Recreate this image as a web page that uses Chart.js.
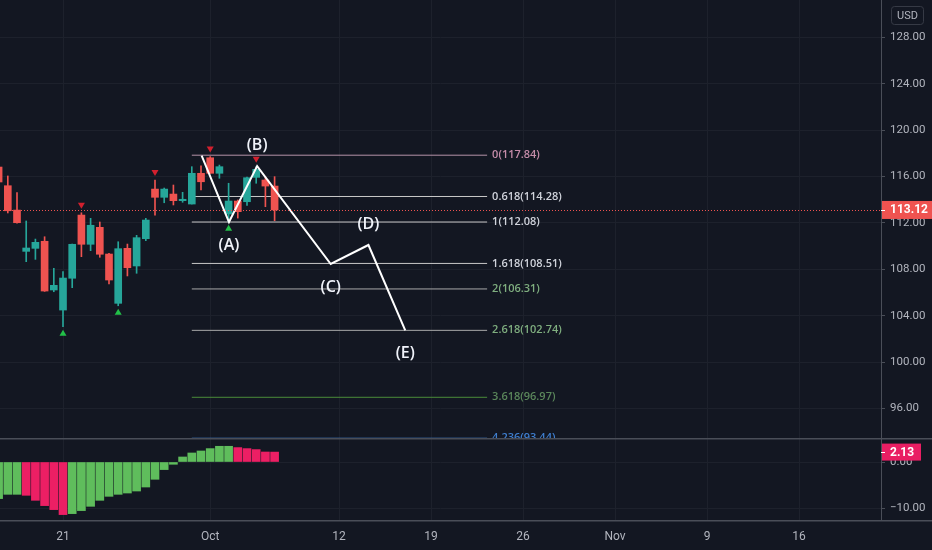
<!DOCTYPE html>
<html>
<head>
<meta charset="utf-8">
<script src="https://cdn.jsdelivr.net/npm/chart.js@4.4.0/dist/chart.umd.min.js"></script>
<style>
  html, body { margin: 0; padding: 0; background: #131722; }
  #wrap { position: relative; width: 932px; height: 550px; overflow: hidden; background: #131722; }
  canvas { position: absolute; left: 0; }
  #priceCanvas { top: 0; }
  #oscCanvas { top: 438px; }
</style>
</head>
<body>
<div id="wrap">
  <canvas id="priceCanvas" width="932" height="438"></canvas>
  <canvas id="oscCanvas" width="932" height="112"></canvas>
</div>
<script>
// bar index 0 = the "21" bar (two bars per session)
const barIdx = [-7, -6, -5, -4, -3, -2, -1, 0, 1, 2, 3, 4, 5, 6, 7, 8, 9, 10, 11, 12, 13, 14, 15, 16, 17, 18, 19, 20, 21, 22, 23];
const opens  = [116.82, 115.21, 113.11, 109.55, 109.81, 110.42, 106.22, 104.49, 107.23, 112.68, 110.16, 111.62, 109.32, 105.07, 109.81, 108.29, 110.64, 114.92, 114.21, 114.49, 113.92, 113.63, 116.28, 117.62, 116.28, 112.77, 113.89, 113.83, 115.93, 115.70, 115.18];
const highs  = [117.10, 116.05, 114.61, 112.17, 110.61, 110.81, 108.09, 107.80, 110.18, 112.88, 112.40, 112.08, 109.38, 110.38, 110.18, 110.93, 112.40, 115.70, 115.01, 115.27, 114.64, 116.85, 116.93, 117.72, 116.99, 115.42, 113.98, 115.96, 116.85, 115.99, 115.99];
const lows   = [115.40, 112.86, 111.99, 108.66, 108.86, 106.10, 106.07, 103.05, 106.42, 109.09, 109.61, 109.04, 106.74, 104.86, 107.43, 107.66, 110.47, 112.68, 113.74, 113.55, 113.78, 113.63, 114.84, 116.28, 115.85, 112.11, 112.42, 113.52, 115.42, 113.40, 112.19];
const closes = [115.53, 113.05, 112.02, 109.84, 110.33, 106.13, 106.62, 107.25, 110.16, 110.16, 111.80, 109.30, 107.08, 109.78, 108.14, 110.73, 112.25, 114.21, 114.92, 113.92, 114.04, 116.28, 115.55, 116.28, 116.85, 113.89, 112.97, 115.90, 116.62, 115.18, 113.12];

const histValues = [-7.87, -6.95, -6.95, -7.16, -8.24, -9.38, -10.24, -11.31, -11.10, -10.45, -9.53, -8.24, -7.38, -6.95, -6.67, -6.24, -5.38, -3.72, -1.63, -0.49, 1.08, 1.94, 2.37, 2.88, 3.38, 3.38, 3.10, 2.88, 2.67, 2.15, 2.13];
const histRising = [1, 1, 1, 0, 0, 0, 0, 0, 1, 1, 1, 1, 1, 1, 1, 1, 1, 1, 1, 1, 1, 1, 1, 1, 1, 1, 0, 0, 0, 0, 0];

const tickIdx = [0, 16, 30, 40, 50, 60, 70, 80];
const tickLabels = ['21', 'Oct', '12', '19', '26', 'Nov', '9', '16'];
const priceTicks = [96, 100, 104, 108, 112, 116, 120, 124, 128];
const oscTicks = [-10, 0];

const fibRatios = ['0', '0.618', '1', '1.618', '2', '2.618', '3.618', '4.236'];
const fibPrices = [117.84, 114.28, 112.08, 108.51, 106.31, 102.74, 96.97, 93.44];
const fibStart = 14;
const fibEnd = 46.1;

const waveX = [15.07, 18.04, 21.1, 29.1, 33.2, 37.2];
const waveY = [117.8, 112.08, 116.9, 108.46, 110.1, 102.74];
const waveNames = ['', '(A)', '(B)', '(C)', '(D)', '(E)'];

const peakBars = [2, 10, 16, 21];
const troughBars = [0, 6, 18];

const lastPrice = 113.12;
const lastOsc = 2.13;

const bg = '#131722';
const gridColor = '#1d212c';
const axisColor = '#4a4e58';
const textColor = '#b2b5be';
const upColor = '#26a69a';
const downColor = '#ef5350';
const fibLineColors = ['#b693a8', '#c9c9c9', '#c9c9c9', '#c9c9c9', '#a8a8a8', '#a8a8a8', '#4a8c3a', '#3f7fd0'];
const fibTextColors = ['#c58ca9', '#d1d4dc', '#d1d4dc', '#d1d4dc', '#7fae7f', '#7fae7f', '#5b875b', '#3f7fd0'];

const xMin = -6.848, xMax = 88.913;
const axisWidth = 51;

function xScale(showLabels) {
  return {
    type: 'linear', min: xMin, max: xMax, offset: false,
    afterBuildTicks: s => { s.ticks = tickIdx.map(v => ({ value: v })); },
    grid: { color: gridColor, drawTicks: false, offset: false },
    border: { display: false },
    ticks: {
      display: showLabels, color: textColor, padding: 10, maxRotation: 0, autoSkip: false,
      font: { family: 'Roboto', size: 12 },
      callback: v => tickLabels[tickIdx.indexOf(v)]
    },
    afterFit: s => { s.height = showLabels ? 30 : 0; s.paddingLeft = 0; s.paddingRight = 0; }
  };
}

function yScale(min, max, ticks, fmt) {
  return {
    position: 'right', min: min, max: max,
    afterBuildTicks: s => { s.ticks = ticks.map(v => ({ value: v })); },
    grid: { color: gridColor, tickColor: axisColor, tickLength: 4 },
    border: { color: axisColor },
    ticks: { color: textColor, padding: 5, font: { family: 'Roboto', size: 11.5 }, callback: fmt },
    afterFit: s => { s.width = axisWidth; s.paddingTop = 0; s.paddingBottom = 0; }
  };
}

function triangle(ctx, x, y, down, color) {
  ctx.beginPath();
  if (down) { ctx.moveTo(x - 3.5, y - 3); ctx.lineTo(x + 3.5, y - 3); ctx.lineTo(x, y + 3); }
  else { ctx.moveTo(x - 3.5, y + 3); ctx.lineTo(x + 3.5, y + 3); ctx.lineTo(x, y - 3); }
  ctx.closePath();
  ctx.fillStyle = color;
  ctx.fill();
}

const bgPlugin = {
  id: 'bg',
  beforeDraw(chart) {
    const ctx = chart.ctx;
    ctx.save();
    ctx.fillStyle = bg;
    ctx.fillRect(0, 0, chart.width, chart.height);
    ctx.restore();
  }
};

const priceOverlay = {
  id: 'priceOverlay',
  afterDatasetsDraw(chart) {
    const { ctx, chartArea, scales: { x, y } } = chart;
    ctx.save();
    ctx.beginPath();
    ctx.rect(chartArea.left, chartArea.top, chartArea.right - chartArea.left, chartArea.bottom - chartArea.top);
    ctx.clip();

    // last price line
    const py = Math.round(y.getPixelForValue(lastPrice)) + 0.5;
    ctx.setLineDash([1, 2]);
    ctx.strokeStyle = downColor;
    ctx.lineWidth = 1;
    ctx.beginPath();
    ctx.moveTo(chartArea.left, py);
    ctx.lineTo(chartArea.right, py);
    ctx.stroke();
    ctx.setLineDash([]);

    // fib labels
    ctx.font = '600 11px "Open Sans"';
    ctx.textAlign = 'left';
    ctx.textBaseline = 'middle';
    fibPrices.forEach((p, i) => {
      ctx.fillStyle = fibTextColors[i];
      ctx.fillText(fibRatios[i] + '(' + p.toFixed(2) + ')', x.getPixelForValue(fibEnd) + 5, y.getPixelForValue(p));
    });

    // pivot markers
    peakBars.forEach(b => {
      const k = barIdx.indexOf(b);
      triangle(ctx, x.getPixelForValue(b), y.getPixelForValue(highs[k]) - 7, true, '#d2202e');
    });
    troughBars.forEach(b => {
      const k = barIdx.indexOf(b);
      triangle(ctx, x.getPixelForValue(b), y.getPixelForValue(lows[k]) + 6, false, '#22c048');
    });

    // wave labels
    ctx.font = '600 16px "Open Sans"';
    ctx.textAlign = 'center';
    ctx.fillStyle = '#f0f3fa';
    for (let i = 1; i < waveX.length; i++) {
      const peak = waveY[i] > waveY[i - 1];
      const ly = y.getPixelForValue(waveY[i]) + (peak ? -21 : 23);
      ctx.fillText(waveNames[i], x.getPixelForValue(waveX[i]), ly);
    }
    ctx.restore();
  },
  afterDraw(chart) {
    const { ctx, chartArea, scales: { y } } = chart;
    ctx.save();
    // price tag
    const py = y.getPixelForValue(lastPrice);
    ctx.fillStyle = downColor;
    ctx.fillRect(chartArea.right + 1, py - 9, axisWidth, 18);
    ctx.fillStyle = '#ffffff';
    ctx.font = 'bold 12px Roboto';
    ctx.textAlign = 'left';
    ctx.textBaseline = 'middle';
    ctx.fillText(lastPrice.toFixed(2), chartArea.right + 9, py + 0.5);
    ctx.strokeStyle = '#ffffff';
    ctx.beginPath();
    ctx.moveTo(chartArea.right, Math.round(py) + 0.5);
    ctx.lineTo(chartArea.right + 4, Math.round(py) + 0.5);
    ctx.stroke();
    // currency badge
    ctx.strokeStyle = '#363a45';
    ctx.lineWidth = 1;
    ctx.beginPath();
    ctx.roundRect(891.5, 6.5, 32, 18, 3);
    ctx.stroke();
    ctx.fillStyle = textColor;
    ctx.font = '11px Roboto';
    ctx.textAlign = 'center';
    ctx.fillText('USD', 907.5, 16);
    ctx.restore();
  }
};

const oscOverlay = {
  id: 'oscOverlay',
  afterDraw(chart) {
    const { ctx, chartArea, scales: { y } } = chart;
    ctx.save();
    const py = y.getPixelForValue(lastOsc);
    ctx.fillStyle = '#e91e63';
    ctx.fillRect(chartArea.right + 1, py - 8.5, 39, 17);
    ctx.fillStyle = '#ffffff';
    ctx.font = 'bold 12px Roboto';
    ctx.textAlign = 'left';
    ctx.textBaseline = 'middle';
    ctx.fillText(lastOsc.toFixed(2), chartArea.right + 9, py + 0.5);
    ctx.strokeStyle = '#ffffff';
    ctx.beginPath();
    ctx.moveTo(chartArea.right, Math.round(py) + 0.5);
    ctx.lineTo(chartArea.right + 4, Math.round(py) + 0.5);
    ctx.stroke();
    // pane separators
    ctx.fillStyle = '#4a4e58';
    ctx.fillRect(0, 0, chart.width, 1.5);
    ctx.fillRect(0, chartArea.bottom, chart.width, 1.5);
    ctx.restore();
  }
};

const candleColors = barIdx.map((b, i) => closes[i] >= opens[i] ? upColor : downColor);

const fibSets = fibPrices.map((p, i) => ({
  type: 'line',
  data: [{ x: fibStart, y: p }, { x: fibEnd, y: p }],
  borderColor: fibLineColors[i],
  borderWidth: 1,
  pointRadius: 0,
  order: 5
}));

new Chart(document.getElementById('priceCanvas'), {
  type: 'bar',
  data: {
    datasets: [
      ...fibSets,
      {
        data: barIdx.map((b, i) => ({ x: b, y: [lows[i], highs[i]] })),
        backgroundColor: candleColors,
        barThickness: 1, grouped: false, order: 3
      },
      {
        data: barIdx.map((b, i) => ({ x: b, y: [opens[i], closes[i]] })),
        backgroundColor: candleColors,
        barThickness: 7, grouped: false, minBarLength: 1, order: 2
      },
      {
        type: 'line',
        data: waveX.map((v, i) => ({ x: v, y: waveY[i] })),
        borderColor: '#ffffff',
        borderWidth: 2,
        pointRadius: 0,
        order: 0
      }
    ]
  },
  options: {
    responsive: false,
    animation: false,
    layout: { padding: 0 },
    plugins: { legend: { display: false }, tooltip: { enabled: false } },
    scales: {
      x: xScale(false),
      y: yScale(93.46, 131.22, priceTicks, v => v.toFixed(2))
    }
  },
  plugins: [bgPlugin, priceOverlay]
});

new Chart(document.getElementById('oscCanvas'), {
  type: 'bar',
  data: {
    datasets: [{
      data: barIdx.map((b, i) => ({ x: b, y: histValues[i] })),
      backgroundColor: histRising.map(r => r ? '#5fbd5c' : '#ec1f64'),
      barThickness: 8
    }]
  },
  options: {
    responsive: false,
    animation: false,
    layout: { padding: 0 },
    plugins: { legend: { display: false }, tooltip: { enabled: false } },
    scales: {
      x: xScale(true),
      y: yScale(-12.47, 5.16, oscTicks, v => (v < 0 ? '\u2212' : '') + Math.abs(v).toFixed(2))
    }
  },
  plugins: [bgPlugin, oscOverlay]
});
</script>
</body>
</html>
